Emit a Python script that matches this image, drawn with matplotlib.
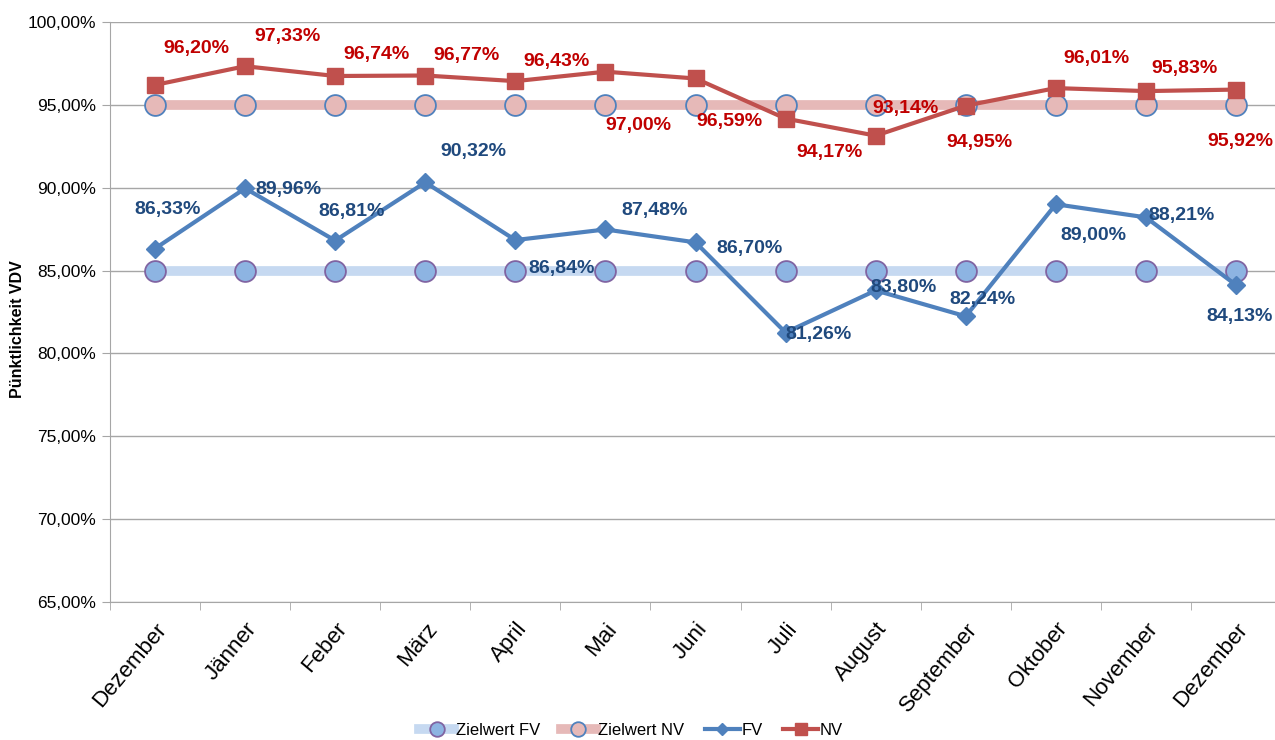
import matplotlib.pyplot as plt
from matplotlib.ticker import FuncFormatter, FixedLocator

plt.rcParams['font.family'] = ['Liberation Sans', 'DejaVu Sans']

monate = ['Dezember', 'Jänner', 'Feber', 'März', 'April', 'Mai', 'Juni',
          'Juli', 'August', 'September', 'Oktober', 'November', 'Dezember']
fv = [86.33, 89.96, 86.81, 90.32, 86.84, 87.48, 86.70, 81.26, 83.80, 82.24, 89.00, 88.21, 84.13]
nv = [96.20, 97.33, 96.74, 96.77, 96.43, 97.00, 96.59, 94.17, 93.14, 94.95, 96.01, 95.83, 95.92]
ziel_fv = [85.0] * 13
ziel_nv = [95.0] * 13

# label offsets in pixels (dx, dy) relative to the point
off_nv = [(41, 36), (42, 30), (41, 22), (41, 20), (41, 20), (33, -54), (34, -43),
          (44, -34), (30, 27), (14, -37), (41, 30), (39, 23), (4, -52)]
off_fv = [(12, 39), (43, -1), (16, 29), (48, 31), (46, -28), (49, 19), (54, -6),
          (33, -2), (28, 3), (17, 17), (38, -31), (36, 2), (4, -32)]

x = list(range(len(monate)))

fig = plt.figure(figsize=(12.75, 7.4), dpi=100)
ax = fig.add_axes([0.0863, 0.1865, 0.9184, 0.7838])

ax.plot(x, ziel_fv, color='#C6D9F1', lw=7, marker='o', ms=15,
        mfc='#8DB4E2', mec='#8064A2', mew=1.3, label='Zielwert FV', zorder=2)
ax.plot(x, ziel_nv, color='#E6B9B8', lw=7, marker='o', ms=15,
        mfc='#E6B9B8', mec='#4F81BD', mew=1.3, label='Zielwert NV', zorder=2)
ax.plot(x, fv, color='#4F81BD', lw=3, marker='D', ms=9,
        mfc='#4F81BD', mec='#4F81BD', label='FV', zorder=3)
ax.plot(x, nv, color='#C0504D', lw=3, marker='s', ms=12,
        mfc='#C0504D', mec='#C0504D', label='NV', zorder=3)

for i in x:
    ax.annotate(f'{nv[i]:.2f}%'.replace('.', ','), (i, nv[i]), xytext=off_nv[i],
                textcoords='offset pixels', ha='center', va='center',
                color='#C00000', fontsize=14, fontweight='bold', zorder=4)
    ax.annotate(f'{fv[i]:.2f}%'.replace('.', ','), (i, fv[i]), xytext=off_fv[i],
                textcoords='offset pixels', ha='center', va='center',
                color='#1F497D', fontsize=14, fontweight='bold', zorder=4)

ax.set_xlim(-0.5, len(monate) - 0.5)
ax.set_ylim(65, 100)
ax.set_yticks([65, 70, 75, 80, 85, 90, 95, 100])
ax.yaxis.set_major_formatter(FuncFormatter(lambda v, p: f'{v:.2f}%'.replace('.', ',')))
ax.grid(axis='y', color='#A6A6A6', lw=1)
ax.set_axisbelow(True)

ax.set_xticks(x)
ax.set_xticklabels(monate, rotation=50, ha='right', va='top',
                   rotation_mode='anchor', fontsize=16)
ax.tick_params(axis='x', length=0, pad=12)
ax.xaxis.set_minor_locator(FixedLocator([i - 0.5 for i in range(len(monate) + 1)]))
ax.tick_params(axis='x', which='minor', length=6, color='#A6A6A6')
ax.tick_params(axis='y', length=6, color='#A6A6A6', labelsize=12.5, pad=4)

for s in ['top', 'right']:
    ax.spines[s].set_visible(False)
for s in ['left', 'bottom']:
    ax.spines[s].set_color('#A6A6A6')

ax.set_ylabel('Pünktlichkeit VDV', fontsize=11.5, fontweight='bold')
ax.yaxis.set_label_coords(-0.073, 0.47)

fig.legend(loc='lower center', bbox_to_anchor=(0.495, -0.017), ncol=4, frameon=False,
           fontsize=12, handlelength=2.1, columnspacing=1.25, handletextpad=0.1,
           markerscale=0.7)

fig.savefig('out.png', dpi=100)
